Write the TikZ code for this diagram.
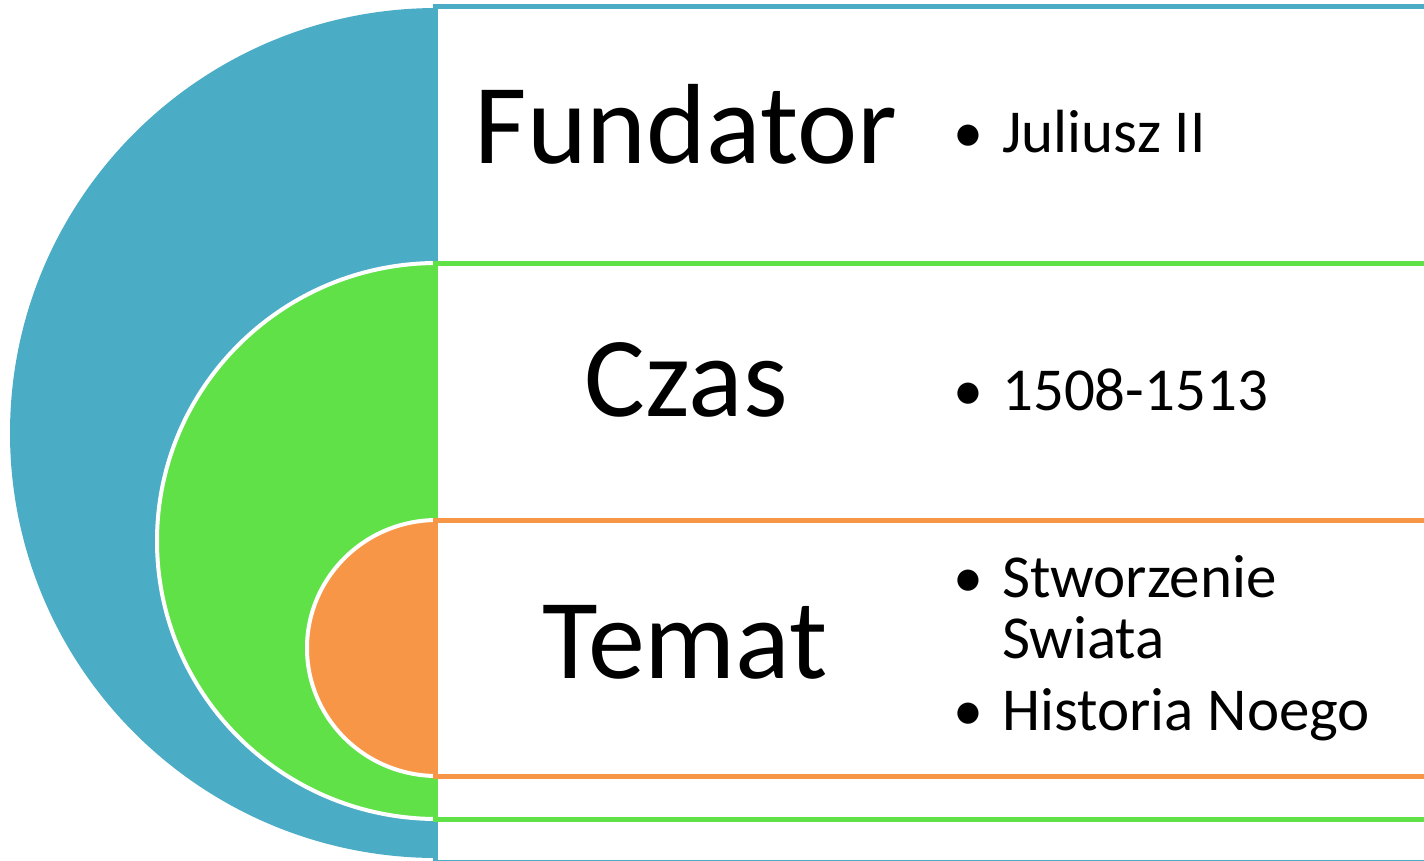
\documentclass[tikz,border=0pt]{standalone}
\usepackage{fontspec}
\setmainfont{Carlito}
\definecolor{cblue}{HTML}{4BACC6}
\definecolor{cgreen}{HTML}{61E148}
\definecolor{corange}{HTML}{F79646}
\begin{document}
\begin{tikzpicture}[x=1pt,y=-1pt,
  band/.style={line width=5pt},
  disk/.style={draw=white,line width=4pt},
  big/.style={anchor=base,inner sep=0pt,font=\fontsize{114}{130}\selectfont},
  item/.style={anchor=base west,inner sep=0pt,font=\fontsize{61}{61}\selectfont},
  dot/.style={anchor=base west,inner sep=0pt,font=\fontsize{60}{61}\selectfont}]
\useasboundingbox (0,0) rectangle (1424,860);
\clip (0,0) rectangle (1424,860);
% blue
\fill[cblue] (437,8) arc[start angle=-90,end angle=-270,x radius=427,y radius=425] -- cycle;
\draw[band,cblue] (1500,6.5) -- (435.5,6.5) -- (435.5,862) -- (1500,862);
% green
\filldraw[disk,fill=cgreen] (437,263) arc[start angle=-90,end angle=-270,x radius=280,y radius=278] -- cycle;
\draw[band,cgreen] (1500,263) -- (435.5,263) -- (435.5,819.5) -- (1500,819.5);
% orange
\filldraw[disk,fill=corange] (437,520) arc[start angle=-90,end angle=-270,x radius=130,y radius=128] -- cycle;
\draw[band,corange] (1500,520) -- (435.5,520) -- (435.5,776) -- (1500,776);
% labels
\node[big] (fund) at (686,163) {Fundator};
\node[big] (czas) at (686,416) {Czas};
\node[big] (temat) at (685,678) {Temat};
% bullets
\node[dot] (b1) at (953,152) {•};
\node[item] (t1) at (1002,152) {Juliusz II};
\node[dot] (b2) at (953,410) {•};
\node[item] (t2) at (1002,410) {1508-1513};
\node[dot] (b3) at (953,597) {•};
\node[item] (t3a) at (1002,597) {Stworzenie};
\node[item] (t3b) at (1002,658) {Swiata};
\node[dot] (b4) at (953,730) {•};
\node[item] (t4) at (1002,730) {Historia Noego};
\end{tikzpicture}
\end{document}
